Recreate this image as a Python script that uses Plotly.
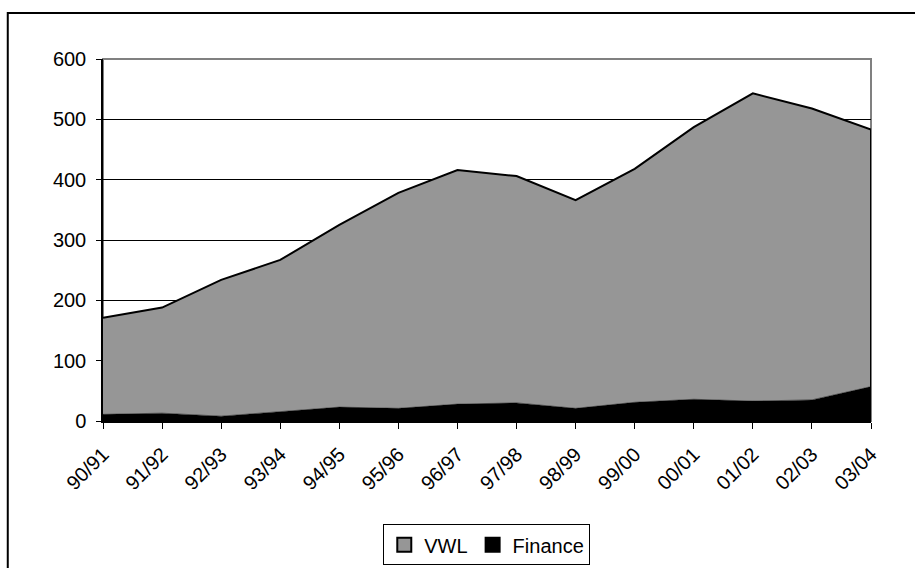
import plotly.graph_objects as go

categories = ["90/91", "91/92", "92/93", "93/94", "94/95", "95/96", "96/97",
              "97/98", "98/99", "99/00", "00/01", "01/02", "02/03", "03/04"]
finance = [11, 13, 8, 15, 23, 21, 28, 30, 21, 31, 36, 33, 35, 57]
vwl = [160, 175, 226, 252, 302, 357, 388, 376, 345, 387, 451, 510, 483, 426]
y_ticks = [0, 100, 200, 300, 400, 500, 600]

totals = [a + b for a, b in zip(finance, vwl)]

FONT = "Liberation Sans, Arial, sans-serif"
FS = 20

fig = go.Figure()
fig.add_trace(go.Scatter(
    x=categories, y=finance, name="Finance", stackgroup="one",
    mode="lines", line=dict(color="black", width=0.5),
    fillcolor="black", showlegend=False,
))
fig.add_trace(go.Scatter(
    x=categories, y=vwl, name="VWL", stackgroup="one",
    mode="lines", line=dict(color="black", width=2),
    fillcolor="#969696", showlegend=False,
))
# right edge outline of the stacked area
fig.add_trace(go.Scatter(
    x=[categories[-1], categories[-1]], y=[0, totals[-1]],
    mode="lines", line=dict(color="black", width=2),
    showlegend=False, hoverinfo="skip",
))
# legend swatches
fig.add_trace(go.Scatter(
    x=[None], y=[None], mode="markers", name="VWL",
    marker=dict(symbol="square", size=14, color="#969696",
                line=dict(color="black", width=2)),
))
fig.add_trace(go.Scatter(
    x=[None], y=[None], mode="markers", name="Finance",
    marker=dict(symbol="square", size=14, color="black",
                line=dict(color="black", width=2)),
))

fig.update_layout(
    width=915, height=568,
    margin=dict(l=103, r=44, t=59, b=147, autoexpand=False),
    paper_bgcolor="white", plot_bgcolor="white",
    font=dict(family=FONT, size=FS, color="black"),
    showlegend=True,
    legend=dict(
        orientation="h", traceorder="normal",
        xref="container", yref="container",
        x=0.532, xanchor="center", y=0.077, yanchor="top",
        bgcolor="white", bordercolor="black", borderwidth=1,
        font=dict(family=FONT, size=20, color="black"),
        itemwidth=30, tracegroupgap=0,
    ),
    xaxis=dict(
        type="category", categoryorder="array", categoryarray=categories,
        range=[0, len(categories) - 1], automargin=False,
        tickangle=-45, ticks="outside", ticklen=6, tickcolor="black",
        ticklabelstandoff=6,
        showline=True, linecolor="black", linewidth=1.5,
        showgrid=False, zeroline=False,
        tickfont=dict(family=FONT, size=FS, color="black"),
    ),
    yaxis=dict(
        range=[0, 600], tickvals=y_ticks, automargin=False,
        ticks="outside", ticklen=5, tickcolor="black",
        ticklabelstandoff=6,
        showline=True, linecolor="black", linewidth=1.5,
        showgrid=True, gridcolor="black", gridwidth=1,
        zeroline=False,
        tickfont=dict(family=FONT, size=FS, color="black"),
    ),
    shapes=[
        dict(type="rect", xref="paper", yref="paper", x0=0, x1=1, y0=0, y1=1,
             line=dict(color="#808080", width=2), layer="below"),
        dict(type="rect", xref="paper", yref="paper",
             x0=-0.124, x1=2, y0=-2, y1=1.127,
             line=dict(color="black", width=2)),
    ],
)

fig.write_html("out.html")
